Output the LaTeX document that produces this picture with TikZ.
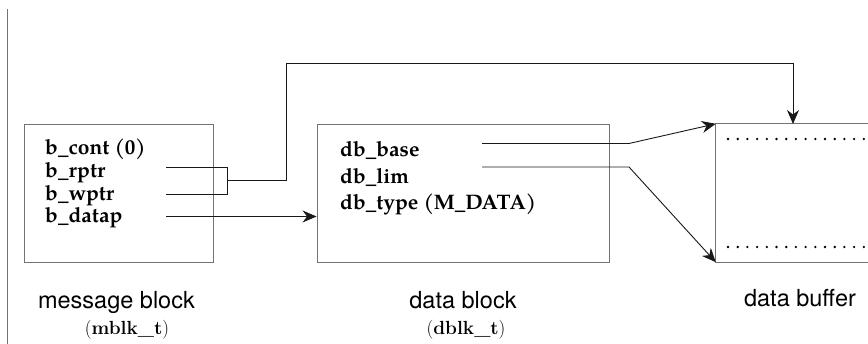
\documentclass[tikz,border=0pt]{standalone}
\usepackage{fontspec}
\newfontfamily\palb{texgyrepagella-bold.otf}
\newfontfamily\heros{TeX Gyre Heros}
\usetikzlibrary{arrows.meta}
\tikzset{
  boxline/.style={draw=black!55, line width=0.9pt},
  conn/.style={draw=black!90, line width=0.9pt},
  arr/.style={conn, -{Stealth[length=14pt,width=12pt,inset=4.5pt]}},
  field/.style={anchor=base west, inner sep=0pt, font=\palb\fontsize{21}{24}\selectfont},
  caption/.style={anchor=base, inner sep=0pt, font=\heros\fontsize{23.5}{26}\selectfont},
  typename/.style={anchor=base, inner sep=0pt, font=\fontsize{19}{22}\selectfont},
  dots/.style={draw=black, line width=2.6pt, line cap=round, dash pattern=on 0pt off 9.7pt}
}
\begin{document}
\begin{tikzpicture}[x=1pt,y=-1pt]
\useasboundingbox (0,0) rectangle (868,344);
% left rule
\draw[boxline] (7,9) -- (7,344);
% message block
\node[boxline, minimum width=189pt, minimum height=138pt, inner sep=0pt] (mblk) at (118.5,193) {};
\node[field] (bcont) at (45,155) {b\_cont (0)};
\node[field] (brptr) at (45,178) {b\_rptr};
\node[field] (bwptr) at (45,200.5) {b\_wptr};
\node[field] (bdatap) at (45,223) {b\_datap};
\node[caption] (mcap) at (116.5,309) {message block};
\node[typename] (mtype) at (127,335) {(\textbf{mblk\_t})};
% data block
\node[boxline, minimum width=292pt, minimum height=138pt, inner sep=0pt] (dblk) at (463,193) {};
\node[field] (dbbase) at (340,157) {db\_base};
\node[field] (dblim) at (340,183.5) {db\_lim};
\node[field] (dbtype) at (340,210) {db\_type (M\_DATA)};
\node[caption] (dcap) at (463,309) {data block};
\node[typename] (dtype) at (466,335) {(\textbf{dblk\_t})};
% data buffer (open on the right)
\node[inner sep=0pt, minimum width=152pt, minimum height=138pt] (buf) at (792,193) {};
\draw[boxline] (buf.north east) -- (buf.north west) -- (buf.south west) -- (buf.south east);
\draw[dots] (728,139) -- (868,139);
\draw[dots] (728,247) -- (868,247);
\node[caption] (bcap) at (800,307) {data buffer};
% connector points
\coordinate (rp) at (166,167.5);
\coordinate (wp) at (166,194);
\coordinate (dp) at (166,216.5);
\coordinate (bp) at (482,143.5);
\coordinate (lp) at (482,167);
\coordinate (bt) at (793,124);
% connectors
\draw[conn] (rp) -- (227,167.5) -- (227,194) -- (wp);
\draw[arr] (227,180.5) -- (286,180.5) -- (286,63) -- (793,63) -- (bt);
\draw[arr] (dp) -- (dblk.west |- dp);
\draw[arr] (bp) -- (629,143.5) -- (buf.north west);
\draw[arr] (lp) -- (629,167) -- (buf.south west);
\end{tikzpicture}
\end{document}
